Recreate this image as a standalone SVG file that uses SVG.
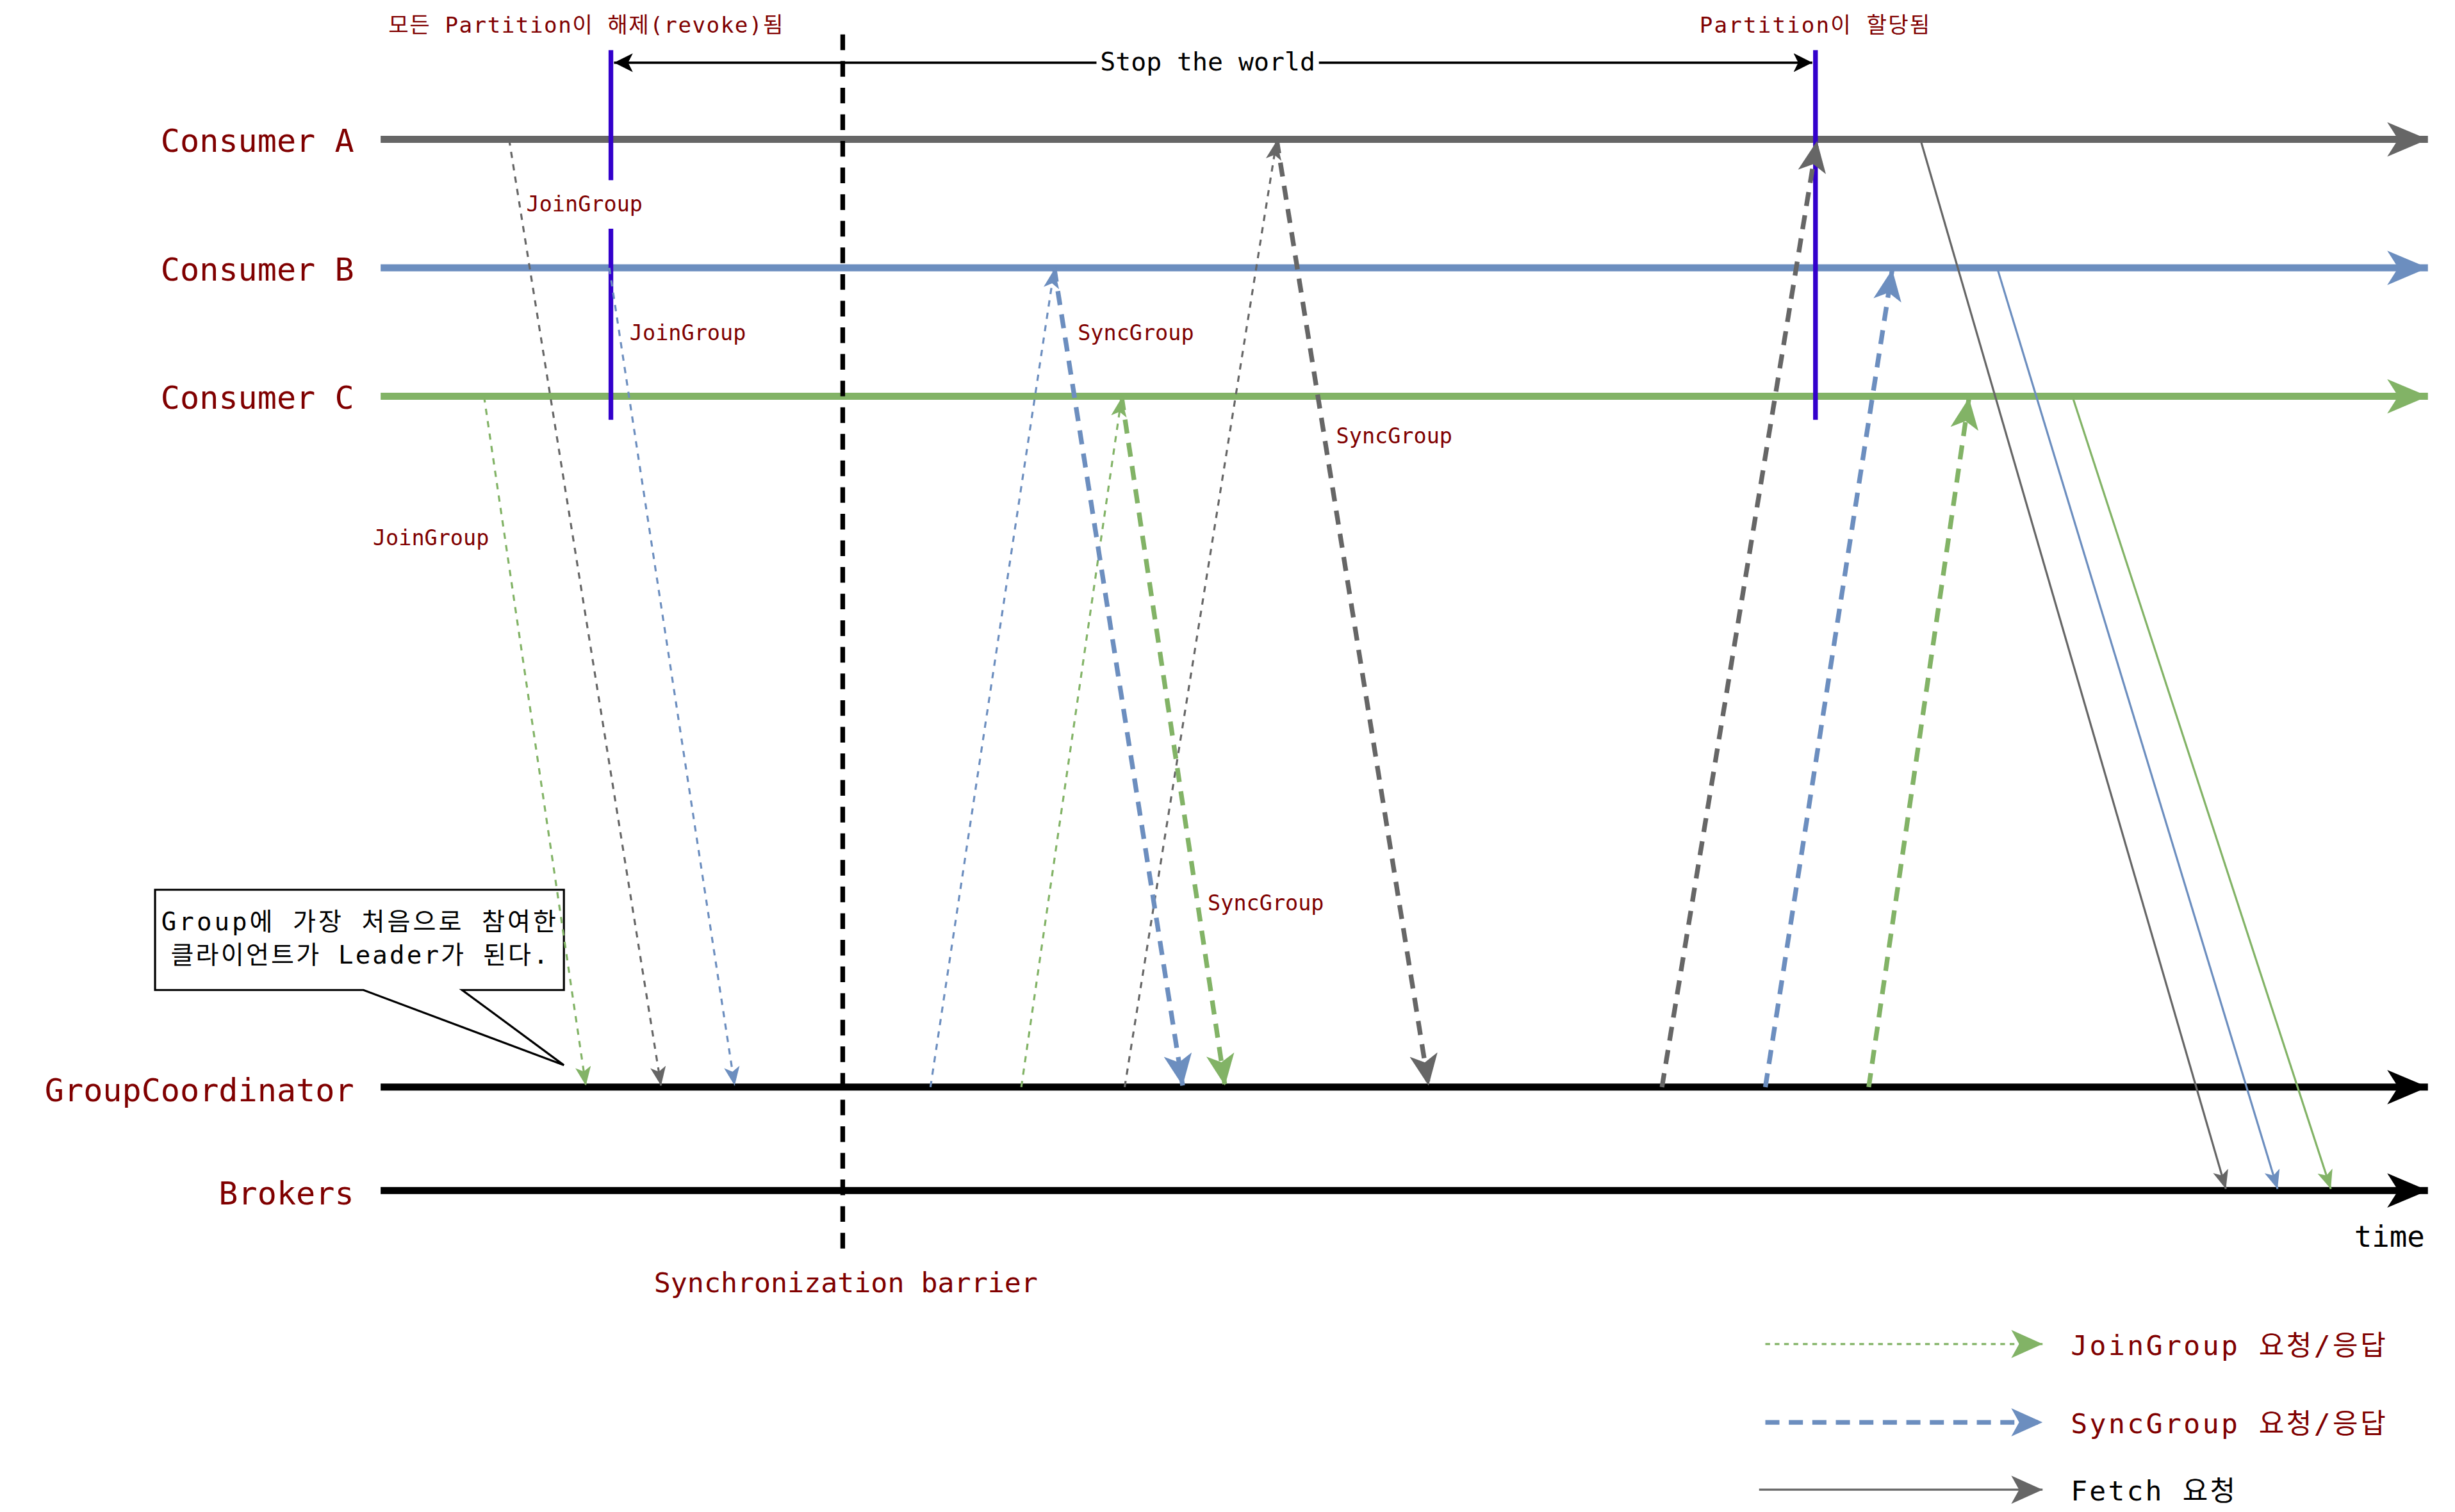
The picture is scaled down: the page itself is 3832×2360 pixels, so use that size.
<svg xmlns="http://www.w3.org/2000/svg" width="3832" height="2360" viewBox="0 0 3832 2360">
<style>
text{font-family:"DejaVu Sans Mono","Noto Sans CJK KR",monospace;fill:#800000}
.lbl{font-size:20.5px;text-anchor:end}
.sm{font-size:13.7px}
.thinG{stroke:#666;stroke-width:1.3;fill:none}
.thinB{stroke:#6C8EBF;stroke-width:1.3;fill:none}
.thinC{stroke:#82B366;stroke-width:1.3;fill:none}
.thkG{stroke:#666;stroke-width:3;fill:none;stroke-dasharray:9 6}
.thkB{stroke:#6C8EBF;stroke-width:3;fill:none;stroke-dasharray:9 6}
.thkC{stroke:#82B366;stroke-width:3;fill:none;stroke-dasharray:9 6}
.d{stroke-dasharray:4 4}
</style>
<defs>
<marker id="aG" markerUnits="userSpaceOnUse" markerWidth="14" markerHeight="14" refX="12" refY="7" orient="auto"><path d="M0,2 L12,7 L0,12 L3,7Z" fill="#666"/></marker>
<marker id="aB" markerUnits="userSpaceOnUse" markerWidth="14" markerHeight="14" refX="12" refY="7" orient="auto"><path d="M0,2 L12,7 L0,12 L3,7Z" fill="#6C8EBF"/></marker>
<marker id="aC" markerUnits="userSpaceOnUse" markerWidth="14" markerHeight="14" refX="12" refY="7" orient="auto"><path d="M0,2 L12,7 L0,12 L3,7Z" fill="#82B366"/></marker>
<marker id="AG" markerUnits="userSpaceOnUse" markerWidth="22" markerHeight="22" refX="20" refY="11" orient="auto"><path d="M0,2 L20,11 L0,20 L5,11Z" fill="#666"/></marker>
<marker id="AB" markerUnits="userSpaceOnUse" markerWidth="22" markerHeight="22" refX="20" refY="11" orient="auto"><path d="M0,2 L20,11 L0,20 L5,11Z" fill="#6C8EBF"/></marker>
<marker id="AC" markerUnits="userSpaceOnUse" markerWidth="22" markerHeight="22" refX="20" refY="11" orient="auto"><path d="M0,2 L20,11 L0,20 L5,11Z" fill="#82B366"/></marker>
<marker id="LG" markerUnits="userSpaceOnUse" markerWidth="28" markerHeight="28" refX="26" refY="14" orient="auto"><path d="M0,3 L26,14 L0,25 L7,14Z" fill="#666"/></marker>
<marker id="LB" markerUnits="userSpaceOnUse" markerWidth="28" markerHeight="28" refX="26" refY="14" orient="auto"><path d="M0,3 L26,14 L0,25 L7,14Z" fill="#6C8EBF"/></marker>
<marker id="LC" markerUnits="userSpaceOnUse" markerWidth="28" markerHeight="28" refX="26" refY="14" orient="auto"><path d="M0,3 L26,14 L0,25 L7,14Z" fill="#82B366"/></marker>
<marker id="LK" markerUnits="userSpaceOnUse" markerWidth="28" markerHeight="28" refX="26" refY="14" orient="auto"><path d="M0,3 L26,14 L0,25 L7,14Z" fill="#000"/></marker>
<marker id="sK" markerUnits="userSpaceOnUse" markerWidth="14" markerHeight="14" refX="12" refY="7" orient="auto-start-reverse"><path d="M0,1 L12,7 L0,13 L3,7Z" fill="#000"/></marker>
</defs>
<rect width="3832" height="2360" fill="#fff"/>
<g transform="scale(2.445)">
<g id="lifelines">
<g id="consumerA"><text class="lbl" x="226" y="97">Consumer A</text><line x1="243" y1="89" x2="1550" y2="89" stroke="#666" stroke-width="4.5" marker-end="url(#LG)"/></g>
<g id="consumerB"><text class="lbl" x="226" y="179">Consumer B</text><line x1="243" y1="171" x2="1550" y2="171" stroke="#6C8EBF" stroke-width="4.5" marker-end="url(#LB)"/></g>
<g id="consumerC"><text class="lbl" x="226" y="261">Consumer C</text><line x1="243" y1="253" x2="1550" y2="253" stroke="#82B366" stroke-width="4.5" marker-end="url(#LC)"/></g>
<g id="groupCoordinator"><text class="lbl" x="226" y="703">GroupCoordinator</text><line x1="243" y1="694" x2="1550" y2="694" stroke="#000" stroke-width="4.5" marker-end="url(#LK)"/></g>
<g id="brokers"><text class="lbl" x="226" y="769">Brokers</text><line x1="243" y1="760" x2="1550" y2="760" stroke="#000" stroke-width="4.5" marker-end="url(#LK)"/></g>
</g>
<g id="markers">
<line x1="538" y1="22" x2="538" y2="800" stroke="#000" stroke-width="3" stroke-dasharray="10 7"/>
<path d="M390,32V115M390,146V268M1159,32V268" stroke="#3300CC" stroke-width="3"/>
<line x1="392" y1="40" x2="1157" y2="40" stroke="#000" stroke-width="1.5" marker-start="url(#sK)" marker-end="url(#sK)"/>
<rect x="700" y="29" width="142" height="20" fill="#fff"/>
<text x="771" y="45" font-size="16.3" text-anchor="middle" style="fill:#000">Stop the world</text>
<text x="248" y="21" font-size="14" textLength="252">모든 Partition이 해제(revoke)됨</text>
<text x="1085" y="21" font-size="14" textLength="147">Partition이 할당됨</text>
<text x="1548" y="796" font-size="18.7" text-anchor="end" style="fill:#000">time</text>
<text x="540" y="825" font-size="17.7" text-anchor="middle">Synchronization barrier</text>
</g>
<g id="callout">
<path d="M99,568H360V632H295L360,680L232,632H99Z" fill="#fff" stroke="#000" stroke-width="1.3"/>
<text x="103" y="594" font-size="16" textLength="252" style="fill:#000">Group에 가장 처음으로 참여한</text>
<text x="109" y="615" font-size="16" textLength="241" style="fill:#000">클라이언트가 Leader가 된다.</text>
</g>
<g id="connectors">
<line class="thinG d" x1="325" y1="89" x2="422" y2="693" marker-end="url(#aG)"/>
<line class="thinB d" x1="389" y1="171" x2="469" y2="693" marker-end="url(#aB)"/>
<line class="thinC d" x1="309" y1="253" x2="374" y2="693" marker-end="url(#aC)"/>
<line class="thinB d" x1="594" y1="694" x2="673" y2="172" marker-end="url(#aB)"/>
<line class="thinC d" x1="652" y1="694" x2="716" y2="254" marker-end="url(#aC)"/>
<line class="thinG d" x1="718" y1="694" x2="815" y2="90" marker-end="url(#aG)"/>
<line class="thkB" x1="673" y1="171" x2="755" y2="693" marker-end="url(#AB)"/>
<line class="thkC" x1="716" y1="253" x2="782" y2="693" marker-end="url(#AC)"/>
<line class="thkG" x1="815" y1="89" x2="912" y2="693" marker-end="url(#AG)"/>
<line class="thkG" x1="1061" y1="694" x2="1160" y2="90" marker-end="url(#AG)"/>
<line class="thkB" x1="1127" y1="694" x2="1208" y2="172" marker-end="url(#AB)"/>
<line class="thkC" x1="1193" y1="694" x2="1257" y2="254" marker-end="url(#AC)"/>
<line class="thinG" x1="1226" y1="89" x2="1421" y2="759" marker-end="url(#aG)"/>
<line class="thinB" x1="1275" y1="171" x2="1454" y2="759" marker-end="url(#aB)"/>
<line class="thinC" x1="1323" y1="253" x2="1488" y2="759" marker-end="url(#aC)"/>
<rect x="334" y="120" width="80" height="18" fill="#fff"/>
<text class="sm" x="336" y="135">JoinGroup</text>
<text class="sm" x="402" y="217">JoinGroup</text>
<text class="sm" x="238" y="348">JoinGroup</text>
<text class="sm" x="688" y="217">SyncGroup</text>
<text class="sm" x="853" y="283">SyncGroup</text>
<text class="sm" x="771" y="581">SyncGroup</text>
</g>
<g id="legend">
<line class="thinC" x1="1127" y1="858" x2="1304" y2="858" stroke-dasharray="3 3" stroke-width="1.8" marker-end="url(#AC)"/>
<text x="1322" y="865" font-size="17.6" textLength="201">JoinGroup 요청/응답</text>
<line class="thkB" x1="1127" y1="908" x2="1304" y2="908" marker-end="url(#AB)"/>
<text x="1322" y="915" font-size="17.6" textLength="201">SyncGroup 요청/응답</text>
<line class="thinG" x1="1123" y1="951" x2="1304" y2="951" stroke-width="1.8" marker-end="url(#AG)"/>
<text x="1322" y="958" font-size="17.6" textLength="105" style="fill:#000">Fetch 요청</text>
</g>
</g>
</svg>
